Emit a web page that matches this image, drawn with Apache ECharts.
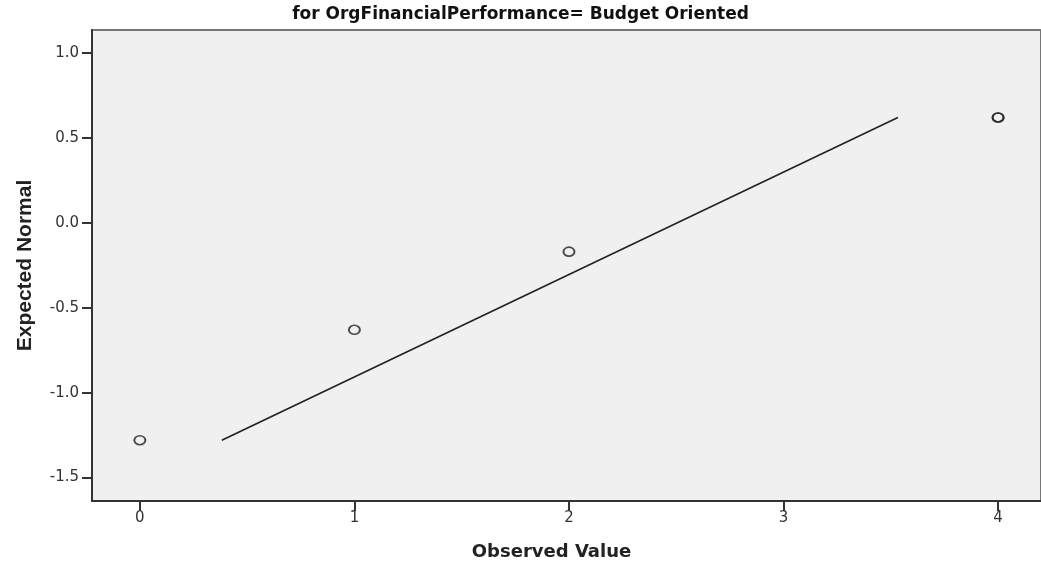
<!DOCTYPE html>
<html>
<head>
<meta charset="utf-8">
<script src="https://cdn.jsdelivr.net/npm/echarts@6/dist/echarts.min.js"></script>
<style>
  html, body { margin: 0; padding: 0; background: #ffffff; }
  #chart { width: 1041px; height: 568px; }
</style>
</head>
<body>
<div id="chart"></div>
<script>
// Normal Q-Q plot: observed scores against expected normal quantiles
const titleText = 'for OrgFinancialPerformance= Budget Oriented';
const observed = [0, 1, 2, 4, 4];
const expectedNormal = [-1.28, -0.63, -0.17, 0.62, 0.62];
// reference line endpoints
const lineX = [0.382, 3.533];
const lineY = [-1.28, 0.62];
const xTicks = [0, 1, 2, 3, 4];
const yTicks = [-1.5, -1.0, -0.5, 0.0, 0.5, 1.0];

const points = observed.map((v, i) => [v, expectedNormal[i]]);
const linePts = lineX.map((v, i) => [v, lineY[i]]);

const chart = echarts.init(document.getElementById('chart'));
chart.setOption({
  animation: false,
  title: {
    text: titleText,
    left: 'center',
    top: 6,
    padding: [0, 8, 0, 0],
    textStyle: { fontFamily: 'DejaVu Sans', fontWeight: 'bold', fontSize: 17, color: '#111' }
  },
  grid: {
    left: 92, top: 30, right: -2, bottom: 67,
    show: true, backgroundColor: '#f0f0f0',
    borderColor: '#777', borderWidth: 2
  },
  xAxis: {
    type: 'value', min: -0.223, max: 4.2,
    name: 'Observed Value', nameLocation: 'middle', nameGap: 42,
    nameTextStyle: { fontFamily: 'DejaVu Sans', fontWeight: 'bold', fontSize: 18, color: '#222', padding: [0, 30, 0, 0] },
    axisLine: { show: true, onZero: false, lineStyle: { color: '#333', width: 2 } },
    axisTick: { show: true, customValues: xTicks, length: 10, lineStyle: { color: '#333', width: 2 } },
    axisLabel: { customValues: xTicks, formatter: v => String(v), fontFamily: 'DejaVu Sans', fontSize: 15, color: '#333', margin: 10 },
    splitLine: { show: false }
  },
  yAxis: {
    type: 'value', min: -1.638, max: 1.135,
    name: 'Expected Normal', nameLocation: 'middle', nameGap: 56, nameRotate: 90,
    nameTextStyle: { fontFamily: 'Liberation Sans', fontWeight: 'bold', fontSize: 21, color: '#222' },
    axisLine: { show: true, onZero: false, lineStyle: { color: '#333', width: 2 } },
    axisTick: { show: true, customValues: yTicks, length: 10, lineStyle: { color: '#333', width: 2 } },
    axisLabel: { customValues: yTicks, formatter: v => v.toFixed(1), fontFamily: 'DejaVu Sans', fontSize: 15, color: '#333', margin: 13 },
    splitLine: { show: false }
  },
  series: [
    {
      type: 'line', data: linePts, symbol: 'none',
      lineStyle: { color: '#222', width: 1.6 }, silent: true
    },
    {
      type: 'scatter', data: points, symbol: 'circle', symbolSize: [11, 9],
      itemStyle: { color: 'transparent', borderColor: '#222', borderWidth: 1.8 }
    }
  ]
});
</script>
</body>
</html>
